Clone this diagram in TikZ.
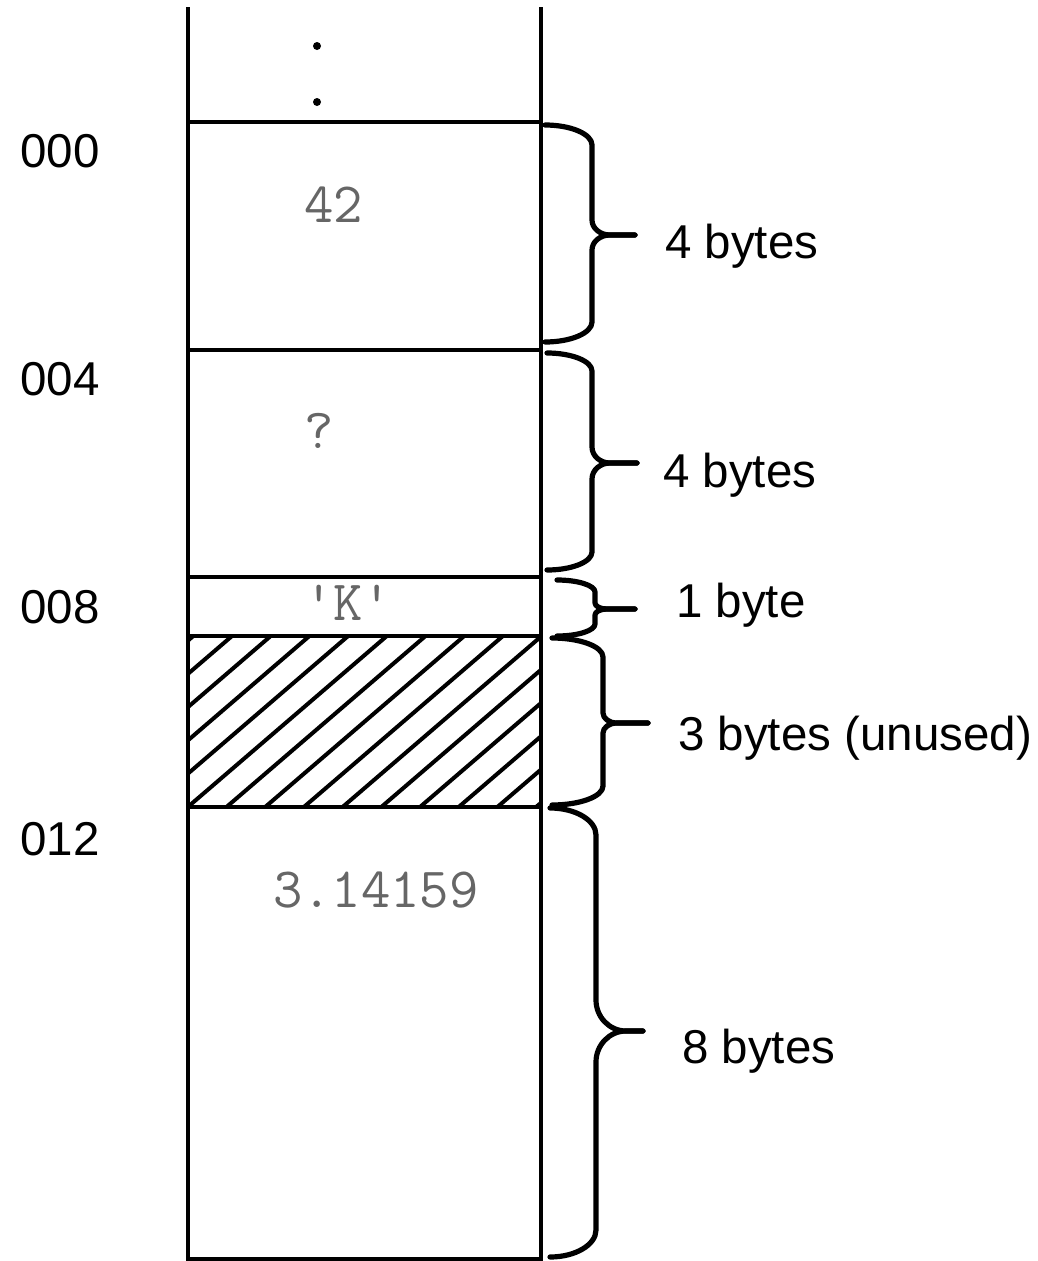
\documentclass[tikz,border=0pt]{standalone}
\usepackage{fontspec}
\setsansfont{Liberation Sans}
% brace: x-end, x-vertical, x-tip, y-top, y-bottom, y-middle, end radius, middle radius, middle width
\newcommand{\memBrace}[9]{%
  \draw[brc] (#1,#4) .. controls ({#1+0.55*(#2-#1)},#4) and (#2,{#4+0.45*#7}) .. (#2,{#4+#7})
    -- (#2,{#6-#8}) .. controls (#2,{#6-0.45*#8}) and ({#2+0.45*#9},#6) .. ({#2+#9},#6) -- (#3,#6);
  \draw[brc] (#3,#6) -- ({#2+#9},#6) .. controls ({#2+0.45*#9},#6) and (#2,{#6+0.45*#8}) .. (#2,{#6+#8})
    -- (#2,{#5-#7}) .. controls (#2,{#5-0.45*#7}) and ({#1+0.55*(#2-#1)},#5) .. (#1,#5);
}
\begin{document}
\begin{tikzpicture}[x=1pt,y=-1pt,
  wall/.style={line width=3.4pt},
  brc/.style={line width=5.2pt, line cap=round, line join=round},
  hatch/.style={line width=4pt},
  lbl/.style={font=\sffamily\fontsize{47.5}{57}\selectfont, inner sep=0pt, anchor=base west},
  val/.style={font=\ttfamily\fontsize{57}{64}\selectfont, text=black!60, inner sep=0pt, anchor=base west}]
\useasboundingbox (0,0) rectangle (1037,1261);
\fill[white] (0,0) rectangle (1037,1261);

% hatching of unused bytes
\begin{scope}
  \clip (188,636) rectangle (541,807);
  \foreach \k in {-1,...,14}
    \draw[hatch] ({232+38.7*\k+23.3},616) -- ({232+38.7*\k-199-23.3},827);
\end{scope}

% memory column
\draw[wall] (188,7) -- (188,1259) -- (541,1259) -- (541,7);
\foreach \y in {122,350,577,636,807}
  \draw[wall] (188,\y) -- (541,\y);

% continuation dots
\fill (317,46) circle[radius=4pt];
\fill (317,102) circle[radius=4pt];

% addresses
\node[lbl] (a000) at (20,167) {000};
\node[lbl] (a004) at (20,395) {004};
\node[lbl] (a008) at (20,623) {008};
\node[lbl] (a012) at (20,855) {012};

% values
\node[val] (v42) at (304,222) {42};
\node[val] (vq) at (304,448) {?};
\node[val] (vk) at (304,620) {\textquotesingle K\textquotesingle};
\node[val] (vpi) at (273,907) {3.14159};

% braces
\memBrace{545}{592}{635}{125}{342}{235}{20}{15}{18}
\memBrace{547}{592}{637}{353}{570}{463}{18}{16}{18}
\memBrace{557}{595}{635}{580}{636}{609}{12}{6}{12}
\memBrace{552}{603}{648}{638}{805}{723}{19}{10}{14}
\memBrace{550}{596}{643}{808}{1257}{1031}{27}{31}{30}

% sizes
\node[lbl] (s1) at (665,258) {4 bytes};
\node[lbl] (s2) at (663,487) {4 bytes};
\node[lbl] (s3) at (676,617) {1 byte};
\node[lbl] (s4) at (678,750) {3 bytes (unused)};
\node[lbl] (s5) at (682,1063) {8 bytes};
\end{tikzpicture}
\end{document}
